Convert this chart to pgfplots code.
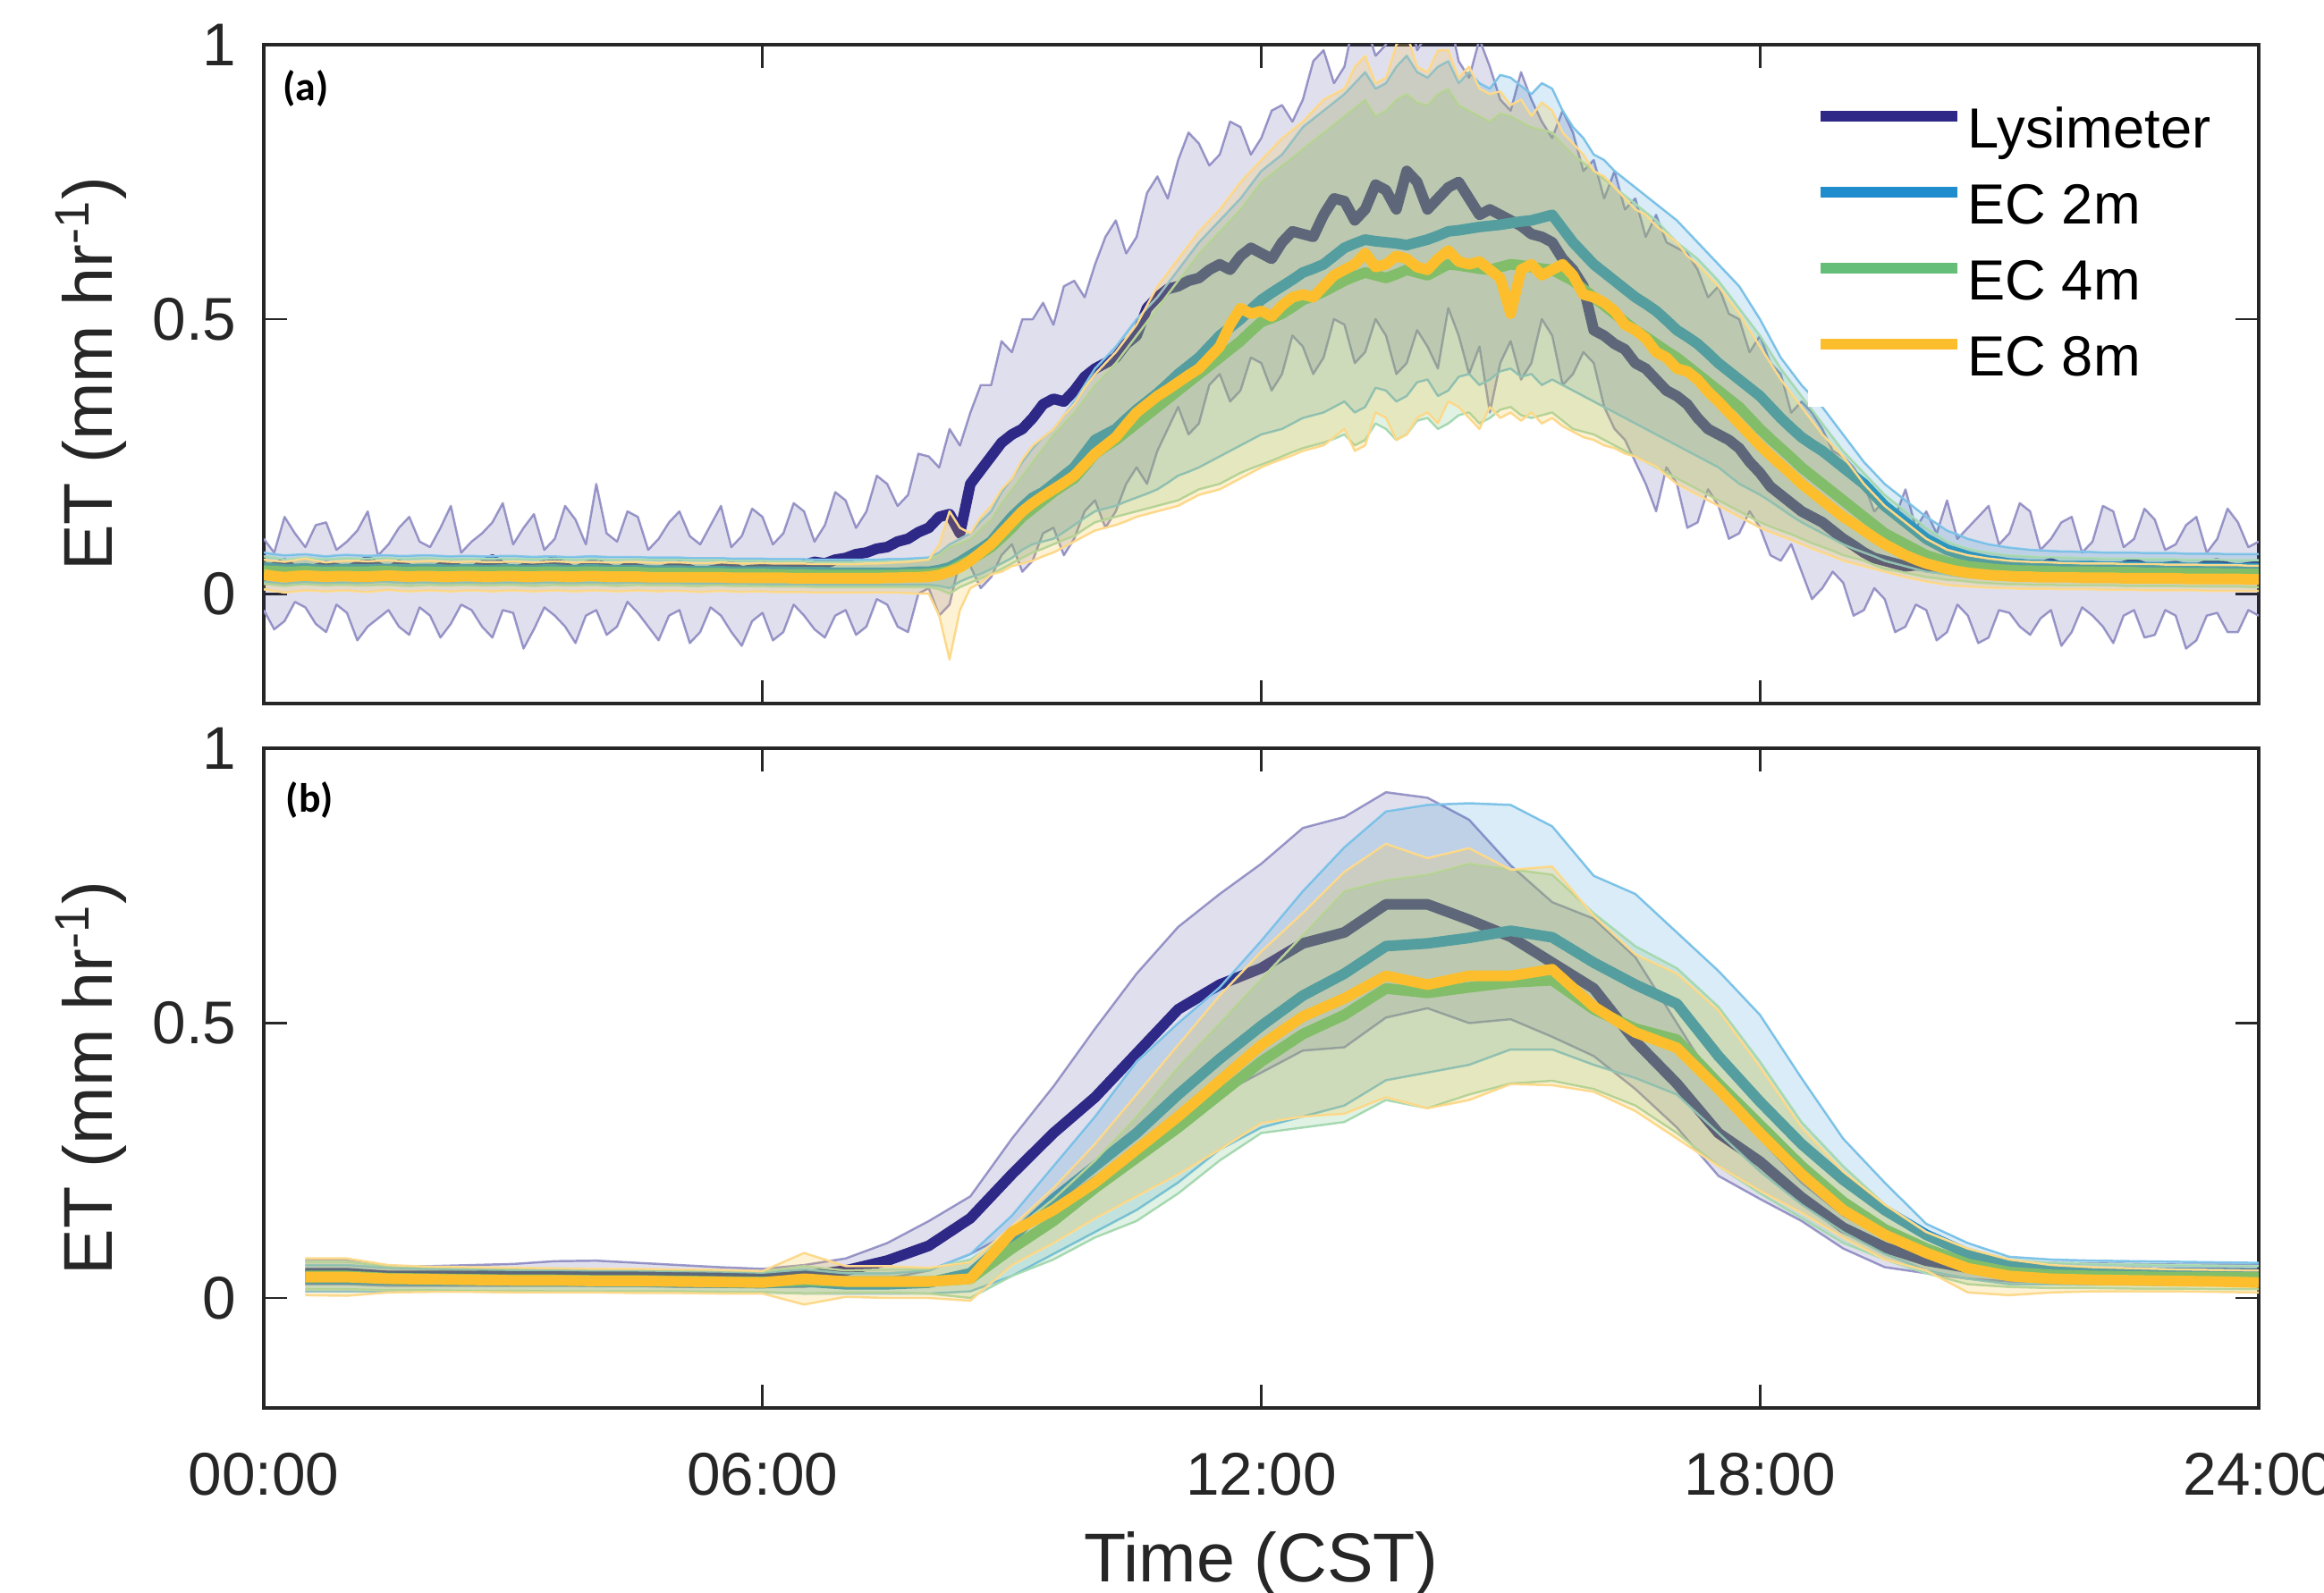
\documentclass[border=0pt]{standalone}
\usepackage{fontspec}
\setmainfont{Liberation Sans}
\newfontfamily\carlito{Carlito}
\usepackage{pgfplots}
\pgfplotsset{compat=1.18}
\usepgfplotslibrary{fillbetween}
\usepackage{pgfplotstable}

\definecolor{lys}{RGB}{46,40,135}
\definecolor{ecb}{RGB}{30,140,205}
\definecolor{ecg}{RGB}{100,190,120}
\definecolor{ecy}{RGB}{252,190,45}
\definecolor{lysE}{RGB}{160,158,205}
\definecolor{ecbE}{RGB}{135,200,235}
\definecolor{ecgE}{RGB}{175,220,185}
\definecolor{ecyE}{RGB}{252,220,150}
\definecolor{axc}{RGB}{38,38,38}

% panel (a): 7.5-min values
\pgfplotstableread{
t lys lysLo lysHi ec2 ec2Lo ec2Hi ec4 ec4Lo ec4Hi ec8 ec8Lo ec8Hi
0.000 0.040 -0.030 0.100 0.048 0.022 0.075 0.042 0.018 0.068 0.035 0.008 0.062
0.125 0.048 -0.065 0.075 0.046 0.020 0.072 0.041 0.016 0.066 0.032 0.005 0.060
0.250 0.055 -0.050 0.140 0.044 0.018 0.070 0.040 0.014 0.062 0.030 0.002 0.058
0.375 0.042 -0.015 0.110 0.045 0.020 0.071 0.040 0.016 0.064 0.032 0.004 0.061
0.500 0.038 -0.025 0.085 0.046 0.021 0.072 0.041 0.017 0.066 0.033 0.006 0.064
0.625 0.045 -0.055 0.125 0.044 0.020 0.070 0.040 0.016 0.064 0.032 0.005 0.060
0.750 0.050 -0.070 0.130 0.043 0.019 0.068 0.039 0.015 0.063 0.031 0.004 0.057
0.875 0.046 -0.020 0.080 0.044 0.020 0.070 0.040 0.016 0.064 0.032 0.005 0.059
1.000 0.042 -0.035 0.095 0.045 0.020 0.071 0.040 0.016 0.065 0.032 0.006 0.060
1.125 0.050 -0.085 0.115 0.044 0.019 0.070 0.040 0.015 0.064 0.031 0.004 0.060
1.250 0.060 -0.060 0.150 0.044 0.020 0.069 0.040 0.015 0.064 0.031 0.003 0.059
1.375 0.048 -0.045 0.070 0.045 0.021 0.070 0.041 0.016 0.065 0.032 0.005 0.060
1.500 0.040 -0.030 0.090 0.045 0.021 0.070 0.041 0.016 0.065 0.033 0.007 0.061
1.625 0.052 -0.060 0.120 0.044 0.020 0.069 0.040 0.015 0.064 0.032 0.005 0.059
1.750 0.045 -0.075 0.140 0.044 0.019 0.069 0.039 0.014 0.064 0.031 0.004 0.058
1.875 0.040 -0.025 0.095 0.045 0.020 0.070 0.040 0.015 0.065 0.032 0.005 0.059
2.000 0.038 -0.040 0.085 0.045 0.020 0.070 0.040 0.016 0.065 0.032 0.006 0.060
2.125 0.048 -0.080 0.120 0.044 0.019 0.069 0.039 0.015 0.064 0.031 0.005 0.059
2.250 0.050 -0.055 0.160 0.043 0.019 0.068 0.039 0.015 0.063 0.031 0.004 0.058
2.375 0.044 -0.020 0.075 0.044 0.020 0.069 0.040 0.016 0.064 0.032 0.005 0.058
2.500 0.040 -0.030 0.095 0.044 0.020 0.069 0.040 0.016 0.064 0.032 0.006 0.059
2.625 0.052 -0.060 0.110 0.043 0.019 0.068 0.039 0.015 0.063 0.031 0.005 0.058
2.750 0.062 -0.080 0.130 0.043 0.019 0.068 0.039 0.015 0.063 0.031 0.004 0.058
2.875 0.048 -0.030 0.165 0.044 0.020 0.069 0.040 0.016 0.064 0.032 0.005 0.058
3.000 0.040 -0.035 0.090 0.044 0.020 0.069 0.040 0.016 0.064 0.032 0.006 0.059
3.125 0.046 -0.100 0.120 0.043 0.019 0.068 0.039 0.015 0.063 0.031 0.005 0.058
3.250 0.045 -0.065 0.145 0.043 0.019 0.067 0.039 0.014 0.063 0.031 0.004 0.057
3.375 0.052 -0.025 0.080 0.044 0.020 0.068 0.040 0.015 0.063 0.032 0.005 0.058
3.500 0.060 -0.040 0.100 0.044 0.020 0.068 0.040 0.016 0.064 0.032 0.006 0.059
3.625 0.048 -0.060 0.160 0.043 0.019 0.067 0.039 0.015 0.063 0.031 0.005 0.058
3.750 0.040 -0.090 0.135 0.043 0.019 0.067 0.039 0.015 0.062 0.031 0.004 0.057
3.875 0.050 -0.040 0.090 0.044 0.020 0.068 0.040 0.016 0.063 0.032 0.005 0.058
4.000 0.055 -0.030 0.200 0.044 0.020 0.068 0.040 0.016 0.063 0.032 0.006 0.058
4.125 0.046 -0.075 0.110 0.043 0.019 0.067 0.039 0.015 0.062 0.031 0.005 0.057
4.250 0.040 -0.060 0.095 0.043 0.019 0.067 0.039 0.014 0.062 0.031 0.004 0.057
4.375 0.048 -0.015 0.150 0.043 0.020 0.067 0.039 0.015 0.062 0.031 0.005 0.058
4.500 0.045 -0.035 0.140 0.043 0.020 0.067 0.039 0.016 0.063 0.031 0.006 0.058
4.625 0.042 -0.060 0.080 0.042 0.019 0.066 0.038 0.015 0.062 0.030 0.005 0.057
4.750 0.040 -0.085 0.100 0.042 0.019 0.066 0.038 0.015 0.062 0.030 0.004 0.056
4.875 0.046 -0.040 0.130 0.042 0.019 0.066 0.038 0.015 0.062 0.030 0.005 0.057
5.000 0.050 -0.030 0.150 0.042 0.019 0.066 0.038 0.015 0.062 0.030 0.005 0.057
5.125 0.044 -0.090 0.105 0.041 0.018 0.065 0.037 0.014 0.061 0.030 0.004 0.056
5.250 0.038 -0.070 0.090 0.041 0.018 0.065 0.037 0.014 0.061 0.030 0.003 0.056
5.375 0.042 -0.025 0.125 0.041 0.018 0.065 0.037 0.015 0.061 0.030 0.004 0.056
5.500 0.045 -0.040 0.160 0.041 0.018 0.065 0.037 0.015 0.061 0.030 0.005 0.057
5.625 0.050 -0.070 0.085 0.040 0.018 0.064 0.036 0.014 0.060 0.029 0.004 0.056
5.750 0.040 -0.095 0.105 0.040 0.018 0.064 0.036 0.014 0.060 0.029 0.003 0.055
5.875 0.044 -0.050 0.155 0.040 0.017 0.064 0.036 0.014 0.060 0.029 0.004 0.055
6.000 0.048 -0.035 0.140 0.040 0.017 0.064 0.036 0.014 0.060 0.029 0.004 0.056
6.125 0.050 -0.085 0.090 0.040 0.017 0.063 0.035 0.013 0.059 0.029 0.003 0.055
6.250 0.045 -0.070 0.110 0.040 0.017 0.063 0.035 0.013 0.059 0.029 0.003 0.055
6.375 0.048 -0.020 0.165 0.039 0.017 0.063 0.035 0.013 0.059 0.028 0.003 0.055
6.500 0.052 -0.040 0.150 0.039 0.017 0.063 0.035 0.013 0.059 0.028 0.003 0.055
6.625 0.058 -0.065 0.095 0.039 0.016 0.062 0.034 0.012 0.058 0.028 0.002 0.054
6.750 0.055 -0.080 0.125 0.039 0.016 0.062 0.034 0.012 0.058 0.028 0.002 0.054
6.875 0.062 -0.040 0.185 0.038 0.016 0.062 0.034 0.012 0.058 0.028 0.002 0.054
7.000 0.065 -0.030 0.170 0.038 0.016 0.062 0.034 0.012 0.058 0.028 0.002 0.054
7.125 0.072 -0.075 0.120 0.038 0.016 0.062 0.034 0.012 0.058 0.028 0.002 0.054
7.250 0.075 -0.060 0.150 0.038 0.016 0.062 0.034 0.012 0.058 0.028 0.002 0.055
7.375 0.082 -0.010 0.215 0.038 0.016 0.062 0.034 0.012 0.058 0.028 0.002 0.055
7.500 0.085 -0.020 0.200 0.038 0.016 0.063 0.034 0.012 0.059 0.029 0.002 0.056
7.625 0.095 -0.060 0.160 0.038 0.016 0.063 0.034 0.012 0.059 0.029 0.002 0.057
7.750 0.100 -0.070 0.180 0.039 0.016 0.064 0.035 0.012 0.060 0.030 0.001 0.058
7.875 0.112 0.000 0.255 0.040 0.016 0.065 0.035 0.012 0.061 0.030 0.000 0.060
8.000 0.120 0.010 0.250 0.040 0.016 0.066 0.036 0.012 0.062 0.031 0.000 0.062
8.125 0.140 -0.040 0.230 0.043 0.014 0.075 0.038 0.008 0.070 0.034 -0.040 0.090
8.250 0.145 -0.020 0.300 0.048 0.010 0.090 0.042 0.000 0.085 0.040 -0.120 0.150
8.375 0.110 0.060 0.270 0.058 0.022 0.100 0.052 0.012 0.092 0.048 -0.030 0.120
8.500 0.200 0.050 0.330 0.070 0.030 0.110 0.062 0.020 0.100 0.060 0.010 0.110
8.625 0.225 0.010 0.380 0.082 0.036 0.132 0.073 0.028 0.118 0.075 0.020 0.140
8.750 0.250 0.030 0.380 0.095 0.045 0.150 0.085 0.035 0.135 0.090 0.035 0.160
8.875 0.275 0.070 0.460 0.118 0.055 0.185 0.102 0.045 0.165 0.110 0.040 0.190
9.000 0.290 0.090 0.440 0.140 0.065 0.210 0.120 0.055 0.190 0.130 0.050 0.210
9.125 0.300 0.040 0.500 0.158 0.080 0.240 0.140 0.065 0.215 0.150 0.055 0.245
9.250 0.320 0.060 0.500 0.175 0.090 0.265 0.155 0.075 0.240 0.165 0.060 0.270
9.375 0.345 0.110 0.530 0.185 0.095 0.285 0.170 0.082 0.265 0.178 0.068 0.285
9.500 0.355 0.120 0.490 0.200 0.100 0.300 0.185 0.090 0.290 0.190 0.075 0.300
9.625 0.350 0.070 0.560 0.215 0.112 0.325 0.198 0.098 0.310 0.202 0.085 0.325
9.750 0.370 0.100 0.570 0.230 0.125 0.350 0.210 0.105 0.330 0.215 0.095 0.345
9.875 0.395 0.150 0.540 0.255 0.138 0.380 0.232 0.118 0.355 0.235 0.105 0.375
10.000 0.410 0.170 0.600 0.280 0.150 0.410 0.255 0.130 0.380 0.255 0.115 0.400
10.125 0.420 0.120 0.650 0.290 0.155 0.430 0.268 0.135 0.400 0.270 0.120 0.420
10.250 0.430 0.150 0.680 0.300 0.160 0.450 0.280 0.140 0.420 0.285 0.125 0.440
10.375 0.455 0.200 0.620 0.318 0.168 0.475 0.295 0.145 0.445 0.308 0.132 0.465
10.500 0.470 0.230 0.650 0.335 0.175 0.500 0.310 0.150 0.470 0.330 0.140 0.490
10.625 0.520 0.200 0.730 0.350 0.182 0.520 0.325 0.155 0.495 0.345 0.145 0.525
10.750 0.540 0.260 0.760 0.365 0.190 0.540 0.340 0.160 0.520 0.360 0.150 0.560
10.875 0.555 0.300 0.720 0.382 0.202 0.565 0.355 0.165 0.545 0.372 0.155 0.585
11.000 0.560 0.340 0.790 0.400 0.215 0.590 0.370 0.170 0.570 0.385 0.160 0.610
11.125 0.570 0.290 0.840 0.415 0.222 0.615 0.385 0.180 0.595 0.398 0.170 0.635
11.250 0.575 0.310 0.820 0.430 0.230 0.640 0.400 0.190 0.620 0.410 0.180 0.660
11.375 0.590 0.380 0.780 0.450 0.240 0.660 0.415 0.195 0.640 0.430 0.185 0.680
11.500 0.600 0.400 0.800 0.470 0.250 0.680 0.430 0.200 0.660 0.450 0.190 0.700
11.625 0.590 0.350 0.860 0.485 0.260 0.700 0.445 0.210 0.680 0.490 0.200 0.725
11.750 0.615 0.370 0.850 0.500 0.270 0.720 0.460 0.220 0.700 0.520 0.210 0.750
11.875 0.630 0.430 0.800 0.518 0.280 0.745 0.478 0.228 0.725 0.510 0.220 0.770
12.000 0.620 0.420 0.830 0.535 0.290 0.770 0.495 0.235 0.750 0.515 0.230 0.790
12.125 0.610 0.370 0.880 0.548 0.295 0.785 0.502 0.242 0.765 0.505 0.238 0.810
12.250 0.640 0.400 0.890 0.560 0.300 0.800 0.510 0.250 0.780 0.525 0.245 0.830
12.375 0.660 0.470 0.860 0.572 0.310 0.825 0.522 0.258 0.795 0.540 0.252 0.845
12.500 0.655 0.450 0.900 0.585 0.320 0.850 0.535 0.265 0.810 0.545 0.260 0.860
12.625 0.650 0.400 0.970 0.592 0.325 0.865 0.542 0.270 0.825 0.540 0.265 0.880
12.750 0.690 0.430 0.990 0.600 0.330 0.880 0.550 0.275 0.840 0.560 0.270 0.900
12.875 0.720 0.500 0.930 0.615 0.340 0.895 0.560 0.282 0.855 0.580 0.285 0.910
13.000 0.715 0.490 0.960 0.630 0.350 0.910 0.570 0.290 0.870 0.590 0.300 0.920
13.125 0.680 0.420 1.050 0.638 0.330 0.930 0.578 0.270 0.885 0.600 0.260 0.960
13.250 0.700 0.440 1.040 0.645 0.340 0.950 0.585 0.280 0.900 0.620 0.270 0.980
13.375 0.745 0.500 0.980 0.642 0.375 0.920 0.580 0.310 0.870 0.595 0.330 0.930
13.500 0.735 0.470 1.000 0.640 0.370 0.930 0.575 0.300 0.880 0.600 0.320 0.940
13.625 0.700 0.400 1.070 0.638 0.350 0.960 0.582 0.280 0.900 0.615 0.280 1.000
13.750 0.770 0.420 1.080 0.635 0.360 0.980 0.590 0.290 0.910 0.610 0.290 1.020
13.875 0.750 0.480 0.990 0.640 0.385 0.950 0.585 0.315 0.895 0.595 0.320 0.960
14.000 0.700 0.450 1.020 0.645 0.390 0.940 0.580 0.320 0.890 0.590 0.330 0.950
14.125 0.720 0.410 1.080 0.652 0.360 0.960 0.590 0.300 0.910 0.610 0.310 0.990
14.250 0.740 0.520 1.060 0.660 0.370 0.970 0.600 0.310 0.920 0.625 0.350 0.990
14.375 0.750 0.470 0.970 0.662 0.395 0.930 0.598 0.325 0.890 0.605 0.340 0.940
14.500 0.720 0.400 0.940 0.665 0.400 0.950 0.595 0.330 0.880 0.600 0.320 0.960
14.625 0.690 0.450 1.010 0.668 0.380 0.930 0.592 0.310 0.870 0.605 0.300 0.920
14.750 0.700 0.330 0.960 0.670 0.390 0.920 0.590 0.320 0.860 0.590 0.340 0.910
14.875 0.690 0.420 0.900 0.672 0.405 0.945 0.595 0.335 0.875 0.575 0.320 0.915
15.000 0.680 0.460 0.880 0.675 0.410 0.940 0.600 0.340 0.870 0.510 0.330 0.890
15.125 0.670 0.390 0.950 0.678 0.395 0.925 0.598 0.325 0.860 0.590 0.315 0.900
15.250 0.655 0.420 0.900 0.680 0.400 0.910 0.595 0.320 0.850 0.600 0.330 0.870
15.375 0.650 0.500 0.860 0.685 0.380 0.930 0.592 0.325 0.845 0.580 0.310 0.895
15.500 0.640 0.470 0.830 0.690 0.390 0.920 0.590 0.330 0.840 0.590 0.320 0.880
15.625 0.610 0.380 0.880 0.665 0.380 0.880 0.580 0.315 0.820 0.600 0.305 0.840
15.750 0.590 0.400 0.840 0.640 0.370 0.850 0.570 0.300 0.800 0.580 0.295 0.820
15.875 0.560 0.440 0.770 0.620 0.360 0.830 0.555 0.295 0.785 0.545 0.285 0.800
16.000 0.480 0.420 0.790 0.600 0.350 0.800 0.540 0.290 0.770 0.540 0.280 0.770
16.125 0.470 0.340 0.720 0.585 0.340 0.790 0.525 0.280 0.755 0.530 0.270 0.760
16.250 0.455 0.300 0.770 0.570 0.330 0.770 0.510 0.270 0.740 0.515 0.265 0.740
16.375 0.445 0.280 0.700 0.555 0.320 0.755 0.495 0.260 0.725 0.490 0.255 0.720
16.500 0.420 0.240 0.720 0.540 0.310 0.740 0.480 0.250 0.710 0.480 0.250 0.700
16.625 0.410 0.200 0.650 0.528 0.300 0.725 0.468 0.240 0.695 0.465 0.240 0.690
16.750 0.390 0.150 0.690 0.515 0.290 0.710 0.455 0.230 0.680 0.440 0.232 0.670
16.875 0.370 0.230 0.640 0.498 0.280 0.695 0.442 0.220 0.660 0.430 0.215 0.655
17.000 0.360 0.200 0.630 0.480 0.270 0.680 0.430 0.210 0.640 0.410 0.200 0.640
17.125 0.345 0.120 0.620 0.468 0.260 0.660 0.415 0.200 0.625 0.405 0.190 0.615
17.250 0.320 0.130 0.590 0.455 0.250 0.640 0.400 0.190 0.610 0.390 0.180 0.600
17.375 0.300 0.190 0.540 0.438 0.240 0.620 0.385 0.180 0.590 0.368 0.170 0.580
17.500 0.290 0.160 0.560 0.420 0.230 0.600 0.370 0.170 0.570 0.350 0.160 0.560
17.625 0.280 0.100 0.510 0.405 0.215 0.580 0.355 0.160 0.545 0.330 0.150 0.535
17.750 0.265 0.110 0.500 0.390 0.200 0.560 0.340 0.150 0.520 0.310 0.140 0.510
17.875 0.240 0.150 0.440 0.375 0.190 0.530 0.320 0.140 0.495 0.290 0.130 0.480
18.000 0.220 0.120 0.470 0.360 0.180 0.500 0.300 0.130 0.470 0.270 0.120 0.450
18.125 0.195 0.070 0.420 0.340 0.168 0.465 0.282 0.122 0.440 0.252 0.112 0.420
18.250 0.180 0.060 0.400 0.320 0.155 0.430 0.265 0.115 0.410 0.235 0.105 0.390
18.375 0.165 0.090 0.330 0.302 0.142 0.405 0.248 0.108 0.385 0.218 0.098 0.365
18.500 0.150 0.040 0.350 0.285 0.130 0.380 0.230 0.100 0.360 0.200 0.090 0.340
18.625 0.140 -0.010 0.330 0.272 0.120 0.360 0.215 0.092 0.335 0.185 0.082 0.315
18.750 0.130 0.010 0.300 0.260 0.110 0.340 0.200 0.085 0.310 0.170 0.075 0.290
18.875 0.115 0.040 0.260 0.245 0.100 0.315 0.185 0.078 0.285 0.155 0.068 0.270
19.000 0.100 0.020 0.250 0.230 0.090 0.290 0.170 0.070 0.260 0.140 0.060 0.250
19.125 0.088 -0.040 0.230 0.215 0.082 0.265 0.155 0.065 0.240 0.128 0.055 0.225
19.250 0.075 -0.030 0.200 0.200 0.075 0.240 0.140 0.060 0.220 0.115 0.050 0.200
19.375 0.065 0.010 0.150 0.180 0.068 0.220 0.125 0.052 0.200 0.102 0.045 0.180
19.500 0.060 -0.010 0.170 0.160 0.060 0.200 0.110 0.045 0.180 0.090 0.040 0.160
19.625 0.055 -0.070 0.140 0.145 0.055 0.185 0.100 0.042 0.165 0.080 0.035 0.145
19.750 0.050 -0.060 0.190 0.130 0.050 0.170 0.090 0.038 0.150 0.070 0.030 0.130
19.875 0.052 -0.020 0.120 0.115 0.045 0.155 0.080 0.034 0.135 0.062 0.026 0.115
20.000 0.050 -0.030 0.150 0.100 0.040 0.140 0.070 0.030 0.120 0.055 0.022 0.100
20.125 0.046 -0.085 0.110 0.090 0.038 0.128 0.064 0.028 0.108 0.050 0.019 0.090
20.250 0.045 -0.070 0.170 0.080 0.035 0.115 0.058 0.025 0.095 0.045 0.016 0.080
20.375 0.050 -0.020 0.100 0.074 0.032 0.108 0.054 0.024 0.088 0.041 0.014 0.075
20.500 0.048 -0.040 0.120 0.068 0.030 0.100 0.050 0.022 0.082 0.038 0.013 0.070
20.625 0.042 -0.090 0.140 0.064 0.029 0.095 0.048 0.020 0.078 0.036 0.012 0.067
20.750 0.045 -0.080 0.160 0.060 0.028 0.090 0.046 0.019 0.075 0.034 0.011 0.064
20.875 0.052 -0.030 0.090 0.058 0.027 0.087 0.044 0.018 0.072 0.033 0.010 0.062
21.000 0.050 -0.035 0.110 0.055 0.026 0.084 0.043 0.017 0.070 0.032 0.010 0.060
21.125 0.044 -0.060 0.165 0.054 0.025 0.082 0.042 0.017 0.069 0.031 0.009 0.059
21.250 0.045 -0.075 0.150 0.052 0.025 0.080 0.042 0.016 0.068 0.031 0.009 0.058
21.375 0.050 -0.045 0.080 0.052 0.025 0.079 0.041 0.016 0.067 0.030 0.009 0.058
21.500 0.055 -0.030 0.100 0.051 0.025 0.078 0.041 0.016 0.067 0.030 0.009 0.057
21.625 0.048 -0.095 0.130 0.050 0.024 0.077 0.040 0.015 0.066 0.030 0.008 0.056
21.750 0.045 -0.070 0.140 0.050 0.024 0.077 0.040 0.015 0.066 0.030 0.008 0.056
21.875 0.048 -0.025 0.075 0.050 0.024 0.076 0.040 0.015 0.065 0.029 0.008 0.055
22.000 0.050 -0.040 0.095 0.050 0.024 0.076 0.040 0.015 0.065 0.029 0.008 0.055
22.125 0.046 -0.060 0.160 0.049 0.024 0.075 0.039 0.015 0.064 0.029 0.007 0.055
22.250 0.045 -0.090 0.150 0.049 0.024 0.075 0.039 0.015 0.064 0.029 0.007 0.055
22.375 0.050 -0.040 0.085 0.049 0.023 0.075 0.039 0.014 0.064 0.028 0.007 0.054
22.500 0.055 -0.030 0.100 0.049 0.023 0.075 0.039 0.014 0.064 0.028 0.007 0.054
22.625 0.048 -0.080 0.155 0.048 0.023 0.074 0.038 0.014 0.063 0.028 0.006 0.054
22.750 0.045 -0.075 0.135 0.048 0.023 0.074 0.038 0.014 0.063 0.028 0.006 0.054
22.875 0.048 -0.030 0.080 0.048 0.023 0.074 0.038 0.014 0.063 0.028 0.006 0.053
23.000 0.050 -0.040 0.090 0.048 0.023 0.074 0.038 0.014 0.063 0.028 0.006 0.053
23.125 0.046 -0.100 0.125 0.047 0.022 0.073 0.037 0.013 0.062 0.027 0.006 0.053
23.250 0.045 -0.085 0.140 0.047 0.022 0.073 0.037 0.013 0.062 0.027 0.006 0.053
23.375 0.052 -0.040 0.075 0.047 0.022 0.073 0.037 0.013 0.062 0.027 0.005 0.052
23.500 0.055 -0.035 0.100 0.047 0.022 0.073 0.037 0.013 0.062 0.027 0.005 0.052
23.625 0.048 -0.070 0.155 0.046 0.022 0.072 0.036 0.013 0.061 0.027 0.005 0.052
23.750 0.045 -0.070 0.130 0.046 0.022 0.072 0.036 0.013 0.061 0.027 0.005 0.052
23.875 0.048 -0.030 0.085 0.046 0.021 0.072 0.036 0.012 0.061 0.026 0.005 0.051
24.000 0.050 -0.040 0.095 0.046 0.021 0.072 0.036 0.012 0.061 0.026 0.005 0.051
}\dataA

% panel (b): 30-min values
\pgfplotstableread{
t lys lysLo lysHi ec2 ec2Lo ec2Hi ec4 ec4Lo ec4Hi ec8 ec8Lo ec8Hi
0.5 0.045 0.025 0.068 0.035 0.012 0.060 0.040 0.016 0.066 0.038 0.005 0.072
1.0 0.045 0.025 0.068 0.035 0.012 0.060 0.040 0.016 0.066 0.038 0.004 0.072
1.5 0.040 0.022 0.058 0.033 0.012 0.055 0.036 0.014 0.058 0.035 0.010 0.060
2.0 0.040 0.022 0.058 0.032 0.012 0.053 0.035 0.014 0.056 0.034 0.011 0.057
2.5 0.040 0.022 0.060 0.032 0.012 0.052 0.034 0.013 0.055 0.033 0.011 0.056
3.0 0.042 0.022 0.062 0.031 0.011 0.051 0.033 0.013 0.054 0.032 0.010 0.055
3.5 0.045 0.022 0.067 0.031 0.011 0.051 0.033 0.012 0.054 0.032 0.010 0.054
4.0 0.045 0.022 0.068 0.030 0.011 0.050 0.032 0.012 0.053 0.031 0.010 0.053
4.5 0.043 0.022 0.064 0.030 0.010 0.050 0.032 0.012 0.052 0.031 0.009 0.053
5.0 0.040 0.020 0.060 0.029 0.010 0.049 0.031 0.012 0.051 0.030 0.009 0.052
5.5 0.038 0.020 0.056 0.028 0.010 0.048 0.030 0.011 0.050 0.029 0.008 0.051
6.0 0.036 0.020 0.053 0.027 0.010 0.046 0.029 0.011 0.048 0.028 0.008 0.049
6.5 0.040 0.020 0.060 0.030 0.008 0.052 0.032 0.008 0.058 0.035 -0.012 0.082
7.0 0.050 0.030 0.072 0.025 0.008 0.045 0.030 0.010 0.050 0.030 0.002 0.058
7.5 0.068 0.035 0.100 0.025 0.008 0.045 0.030 0.010 0.052 0.030 0.000 0.058
8.0 0.095 0.050 0.140 0.028 0.008 0.050 0.030 0.008 0.053 0.030 0.000 0.055
8.5 0.145 0.080 0.185 0.045 0.012 0.080 0.035 0.000 0.070 0.035 -0.005 0.065
9.0 0.225 0.120 0.290 0.110 0.040 0.150 0.090 0.040 0.120 0.120 0.060 0.130
9.5 0.300 0.170 0.385 0.180 0.080 0.240 0.140 0.070 0.180 0.160 0.100 0.200
10.0 0.365 0.220 0.490 0.240 0.120 0.330 0.200 0.110 0.250 0.210 0.145 0.280
10.5 0.445 0.270 0.590 0.300 0.160 0.430 0.255 0.140 0.330 0.270 0.185 0.370
11.0 0.525 0.320 0.675 0.370 0.210 0.500 0.310 0.190 0.420 0.330 0.225 0.460
11.5 0.570 0.370 0.735 0.435 0.270 0.565 0.370 0.250 0.500 0.395 0.270 0.550
12.0 0.600 0.410 0.790 0.495 0.310 0.650 0.430 0.300 0.580 0.460 0.318 0.630
12.5 0.645 0.450 0.855 0.550 0.330 0.740 0.480 0.310 0.660 0.512 0.330 0.700
13.0 0.665 0.456 0.875 0.590 0.350 0.820 0.515 0.320 0.740 0.545 0.335 0.775
13.5 0.716 0.510 0.920 0.640 0.396 0.885 0.563 0.360 0.760 0.586 0.365 0.826
14.0 0.716 0.527 0.910 0.645 0.410 0.897 0.555 0.345 0.770 0.570 0.345 0.800
14.5 0.688 0.500 0.870 0.655 0.424 0.900 0.565 0.370 0.790 0.586 0.360 0.818
15.0 0.657 0.507 0.787 0.668 0.452 0.897 0.574 0.390 0.780 0.586 0.389 0.779
15.5 0.610 0.475 0.720 0.656 0.452 0.858 0.578 0.395 0.770 0.598 0.387 0.785
16.0 0.563 0.440 0.690 0.610 0.424 0.768 0.525 0.380 0.700 0.530 0.375 0.695
16.5 0.467 0.380 0.620 0.570 0.400 0.735 0.490 0.350 0.640 0.483 0.340 0.625
17.0 0.390 0.310 0.500 0.535 0.370 0.665 0.470 0.300 0.600 0.455 0.290 0.590
17.5 0.300 0.222 0.380 0.440 0.300 0.595 0.390 0.240 0.530 0.380 0.240 0.523
18.0 0.248 0.180 0.290 0.357 0.230 0.515 0.315 0.190 0.430 0.300 0.195 0.420
18.5 0.183 0.140 0.210 0.280 0.170 0.400 0.240 0.145 0.320 0.225 0.155 0.310
19.0 0.128 0.090 0.150 0.215 0.120 0.290 0.175 0.100 0.240 0.160 0.110 0.230
19.5 0.092 0.056 0.110 0.160 0.080 0.210 0.125 0.070 0.170 0.115 0.070 0.170
20.0 0.068 0.045 0.085 0.115 0.050 0.135 0.090 0.045 0.120 0.082 0.050 0.120
20.5 0.055 0.035 0.072 0.081 0.035 0.100 0.062 0.025 0.090 0.054 0.010 0.090
21.0 0.050 0.030 0.066 0.060 0.025 0.075 0.047 0.020 0.070 0.040 0.005 0.070
21.5 0.048 0.030 0.064 0.050 0.025 0.070 0.042 0.018 0.064 0.035 0.010 0.060
22.0 0.047 0.030 0.063 0.047 0.024 0.068 0.040 0.018 0.062 0.033 0.012 0.056
22.5 0.046 0.030 0.062 0.046 0.024 0.067 0.039 0.017 0.061 0.032 0.012 0.054
23.0 0.045 0.029 0.061 0.045 0.023 0.066 0.038 0.017 0.060 0.031 0.012 0.052
23.5 0.045 0.029 0.061 0.044 0.023 0.065 0.038 0.016 0.059 0.030 0.011 0.051
24.0 0.044 0.028 0.060 0.042 0.022 0.064 0.037 0.016 0.058 0.028 0.010 0.050
}\dataB

\pgfplotsset{
  panel/.style={
    set layers,
    clip mode=individual,
    scale only axis, width=22.31cm, height=7.37cm,
    xmin=0, xmax=24, ymin=-0.2, ymax=1,
    xtick={0,6,12,18,24}, ytick={0,0.5,1},
    tick align=inside, major tick length=0.26cm,
    axis line style={axc, line width=1pt},
    every tick/.style={axc, line width=0.8pt},
    /pgf/number format/assume math mode=true,
    tick label style={font=\fontsize{19.2}{22}\selectfont, text=axc},
    yticklabel style={anchor=east, inner sep=0pt, xshift=-0.3cm},
    xticklabel style={anchor=base, inner sep=0pt, yshift=-0.97cm},
    label style={font=\fontsize{22}{26}\selectfont, text=axc},
    ylabel={ET (mm hr\textsuperscript{-1})},
    ylabel style={at={(rel axis cs:-0.0758,0.5)}, anchor=base},
    clip=true,
  },
  band/.style={line width=0.7pt, forget plot, line join=round, on layer=pre main},
  mean/.style={line width=3.4pt, line join=round, on layer=pre main},
  shade/.style={forget plot},
}

\begin{document}
\begin{tikzpicture}
% ---------------- panel (a)
\begin{axis}[panel, at={(2.95cm,9.94cm)}, anchor=south west,
  xticklabels={,,,,},
  legend style={at={(rel axis cs:0.7736,0.932)}, anchor=north west,
    draw=none, fill=white, inner xsep=0.08cm, inner ysep=0.22cm,
    row sep=0.30cm, column sep=0.06cm,
    font=\fontsize{18}{21}\selectfont,
    nodes={inner sep=0pt, text height=0.43cm, text depth=0.12cm}},
  legend cell align=left,
  legend image code/.code={\draw[#1, line width=3.4pt] (0cm,0.2cm) -- (1.53cm,0.2cm);},
]
\addplot[band, draw=lysE, name path=aLH] table[x=t,y=lysHi]{\dataA};
\addplot[band, draw=lysE, name path=aLL] table[x=t,y=lysLo]{\dataA};
\addplot[shade, fill=lys, fill opacity=0.15] fill between[of=aLH and aLL];
\addplot[mean, lys] table[x=t,y=lys]{\dataA};
\addplot[band, draw=ecbE, name path=aBH] table[x=t,y=ec2Hi]{\dataA};
\addplot[band, draw=ecbE, name path=aBL] table[x=t,y=ec2Lo]{\dataA};
\addplot[shade, fill=ecb, fill opacity=0.17] fill between[of=aBH and aBL];
\addplot[mean, ecb] table[x=t,y=ec2]{\dataA};
\addplot[band, draw=ecgE, name path=aGH] table[x=t,y=ec4Hi]{\dataA};
\addplot[band, draw=ecgE, name path=aGL] table[x=t,y=ec4Lo]{\dataA};
\addplot[shade, fill=ecg, fill opacity=0.2] fill between[of=aGH and aGL];
\addplot[mean, ecg] table[x=t,y=ec4]{\dataA};
\addplot[band, draw=ecyE, name path=aYH] table[x=t,y=ec8Hi]{\dataA};
\addplot[band, draw=ecyE, name path=aYL] table[x=t,y=ec8Lo]{\dataA};
\addplot[shade, fill=ecy, fill opacity=0.2] fill between[of=aYH and aYL];
\addplot[mean, ecy] table[x=t,y=ec8]{\dataA};
\legend{Lysimeter, EC 2m, EC 4m, EC 8m}
\node[anchor=west, inner sep=0pt, font=\carlito\bfseries\fontsize{13}{15}\selectfont] at (rel axis cs:0.0094,0.9335) {(a)};
\end{axis}
% ---------------- panel (b)
\begin{axis}[panel, at={(2.95cm,2.06cm)}, anchor=south west, height=7.38cm,
  xticklabels={00:00,06:00,12:00,18:00,24:00},
  xlabel={Time (CST)},
  xlabel style={at={(rel axis cs:0.5,-0.2642)}, anchor=base},
]
\addplot[band, draw=lysE, name path=bLH] table[x=t,y=lysHi]{\dataB};
\addplot[band, draw=lysE, name path=bLL] table[x=t,y=lysLo]{\dataB};
\addplot[shade, fill=lys, fill opacity=0.15] fill between[of=bLH and bLL];
\addplot[mean, lys] table[x=t,y=lys]{\dataB};
\addplot[band, draw=ecbE, name path=bBH] table[x=t,y=ec2Hi]{\dataB};
\addplot[band, draw=ecbE, name path=bBL] table[x=t,y=ec2Lo]{\dataB};
\addplot[shade, fill=ecb, fill opacity=0.17] fill between[of=bBH and bBL];
\addplot[mean, ecb] table[x=t,y=ec2]{\dataB};
\addplot[band, draw=ecgE, name path=bGH] table[x=t,y=ec4Hi]{\dataB};
\addplot[band, draw=ecgE, name path=bGL] table[x=t,y=ec4Lo]{\dataB};
\addplot[shade, fill=ecg, fill opacity=0.2] fill between[of=bGH and bGL];
\addplot[mean, ecg] table[x=t,y=ec4]{\dataB};
\addplot[band, draw=ecyE, name path=bYH] table[x=t,y=ec8Hi]{\dataB};
\addplot[band, draw=ecyE, name path=bYL] table[x=t,y=ec8Lo]{\dataB};
\addplot[shade, fill=ecy, fill opacity=0.2] fill between[of=bYH and bYL];
\addplot[mean, ecy] table[x=t,y=ec8]{\dataB};
\node[anchor=west, inner sep=0pt, font=\carlito\bfseries\fontsize{13}{15}\selectfont] at (rel axis cs:0.0108,0.921) {(b)};
\end{axis}
\pgfresetboundingbox
\path[use as bounding box] (0,0) rectangle (25.99,17.81);
\end{tikzpicture}
\end{document}
